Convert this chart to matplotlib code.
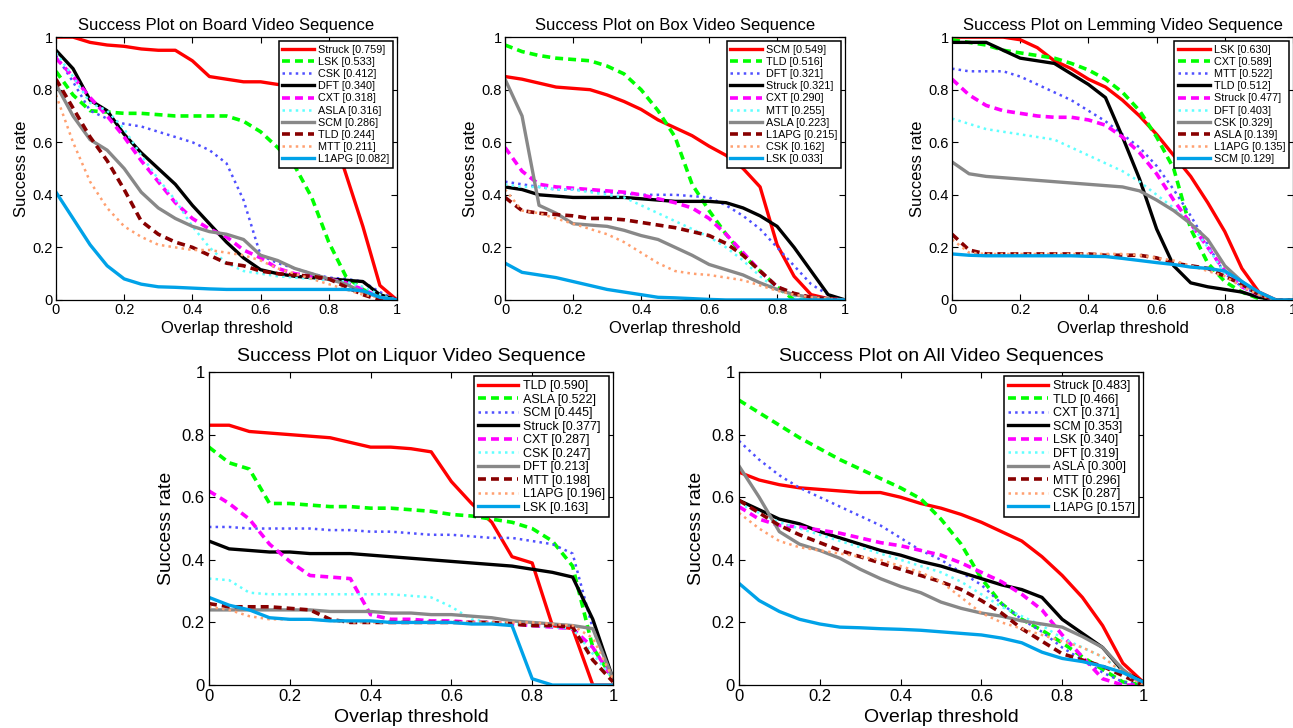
import matplotlib
matplotlib.use('Agg')
import matplotlib.pyplot as plt
import numpy as np
from matplotlib.ticker import FormatStrFormatter

plt.rcParams['font.family'] = ['Liberation Sans', 'DejaVu Sans']

thresholds = np.linspace(0, 1, 21)

board_names = ['Struck', 'LSK', 'CSK', 'DFT', 'CXT', 'ASLA', 'SCM', 'TLD', 'MTT', 'L1APG']
board_auc = [0.759, 0.533, 0.412, 0.340, 0.318, 0.316, 0.286, 0.244, 0.211, 0.082]
board_rates = [
    [1.0, 1.0, 0.98, 0.97, 0.965, 0.955, 0.95, 0.95, 0.91, 0.85, 0.84, 0.83, 0.83, 0.82, 0.82, 0.8, 0.68, 0.48, 0.28, 0.055, 0.0],
    [0.87, 0.78, 0.72, 0.715, 0.71, 0.71, 0.705, 0.70, 0.70, 0.70, 0.70, 0.68, 0.64, 0.58, 0.51, 0.39, 0.22, 0.09, 0.04, 0.01, 0.0],
    [0.93, 0.83, 0.72, 0.69, 0.67, 0.66, 0.64, 0.62, 0.60, 0.57, 0.52, 0.38, 0.17, 0.14, 0.12, 0.10, 0.085, 0.08, 0.07, 0.03, 0.0],
    [0.95, 0.88, 0.76, 0.72, 0.63, 0.56, 0.50, 0.44, 0.36, 0.29, 0.22, 0.16, 0.115, 0.10, 0.09, 0.085, 0.08, 0.075, 0.07, 0.02, 0.0],
    [0.92, 0.85, 0.77, 0.70, 0.62, 0.53, 0.45, 0.37, 0.31, 0.27, 0.24, 0.19, 0.16, 0.12, 0.10, 0.09, 0.08, 0.065, 0.04, 0.01, 0.0],
    [0.94, 0.85, 0.75, 0.72, 0.65, 0.55, 0.46, 0.38, 0.28, 0.20, 0.14, 0.11, 0.10, 0.09, 0.085, 0.08, 0.075, 0.07, 0.05, 0.02, 0.0],
    [0.82, 0.70, 0.61, 0.57, 0.50, 0.41, 0.35, 0.31, 0.28, 0.26, 0.25, 0.23, 0.17, 0.15, 0.12, 0.10, 0.08, 0.06, 0.03, 0.01, 0.0],
    [0.84, 0.73, 0.62, 0.53, 0.42, 0.30, 0.25, 0.22, 0.20, 0.17, 0.14, 0.13, 0.11, 0.10, 0.095, 0.09, 0.08, 0.05, 0.02, 0.0, 0.0],
    [0.78, 0.60, 0.45, 0.35, 0.28, 0.24, 0.21, 0.20, 0.19, 0.19, 0.18, 0.17, 0.15, 0.12, 0.10, 0.08, 0.06, 0.04, 0.02, 0.01, 0.0],
    [0.41, 0.31, 0.21, 0.13, 0.08, 0.06, 0.05, 0.048, 0.045, 0.042, 0.04, 0.04, 0.04, 0.04, 0.04, 0.04, 0.04, 0.04, 0.035, 0.01, 0.0],
]

box_names = ['SCM', 'TLD', 'DFT', 'Struck', 'CXT', 'MTT', 'ASLA', 'L1APG', 'CSK', 'LSK']
box_auc = [0.549, 0.516, 0.321, 0.321, 0.290, 0.255, 0.223, 0.215, 0.162, 0.033]
box_rates = [
    [0.85, 0.84, 0.825, 0.81, 0.805, 0.80, 0.78, 0.755, 0.725, 0.685, 0.655, 0.625, 0.585, 0.55, 0.50, 0.43, 0.21, 0.09, 0.02, 0.005, 0.0],
    [0.97, 0.945, 0.93, 0.92, 0.915, 0.91, 0.89, 0.86, 0.80, 0.72, 0.62, 0.44, 0.34, 0.25, 0.17, 0.11, 0.05, 0.0, 0.0, 0.0, 0.0],
    [0.45, 0.44, 0.43, 0.42, 0.42, 0.415, 0.41, 0.405, 0.40, 0.40, 0.40, 0.395, 0.39, 0.36, 0.32, 0.27, 0.20, 0.13, 0.06, 0.02, 0.0],
    [0.43, 0.42, 0.40, 0.395, 0.39, 0.39, 0.39, 0.39, 0.385, 0.38, 0.375, 0.375, 0.375, 0.37, 0.35, 0.32, 0.28, 0.20, 0.11, 0.02, 0.0],
    [0.58, 0.49, 0.44, 0.43, 0.425, 0.42, 0.415, 0.41, 0.40, 0.385, 0.37, 0.35, 0.31, 0.25, 0.18, 0.11, 0.05, 0.02, 0.01, 0.005, 0.0],
    [0.44, 0.43, 0.43, 0.42, 0.42, 0.41, 0.40, 0.39, 0.36, 0.33, 0.30, 0.27, 0.24, 0.20, 0.15, 0.09, 0.04, 0.015, 0.005, 0.0, 0.0],
    [0.84, 0.70, 0.36, 0.33, 0.29, 0.285, 0.28, 0.265, 0.245, 0.23, 0.20, 0.17, 0.135, 0.115, 0.095, 0.065, 0.04, 0.02, 0.01, 0.005, 0.0],
    [0.39, 0.34, 0.33, 0.325, 0.32, 0.31, 0.31, 0.305, 0.295, 0.285, 0.275, 0.26, 0.245, 0.215, 0.17, 0.11, 0.05, 0.025, 0.01, 0.005, 0.0],
    [0.42, 0.34, 0.33, 0.31, 0.29, 0.27, 0.25, 0.22, 0.18, 0.14, 0.11, 0.10, 0.095, 0.085, 0.075, 0.055, 0.035, 0.02, 0.01, 0.005, 0.0],
    [0.14, 0.105, 0.095, 0.085, 0.07, 0.055, 0.04, 0.03, 0.02, 0.01, 0.008, 0.005, 0.002, 0.0, 0.0, 0.0, 0.0, 0.0, 0.0, 0.0, 0.0],
]

lemming_names = ['LSK', 'CXT', 'MTT', 'TLD', 'Struck', 'DFT', 'CSK', 'ASLA', 'L1APG', 'SCM']
lemming_auc = [0.630, 0.589, 0.522, 0.512, 0.477, 0.403, 0.329, 0.139, 0.135, 0.129]
lemming_rates = [
    [1.0, 1.0, 1.0, 1.0, 0.99, 0.96, 0.91, 0.88, 0.84, 0.81, 0.76, 0.70, 0.63, 0.55, 0.47, 0.37, 0.26, 0.12, 0.03, 0.0, 0.0],
    [0.99, 0.98, 0.97, 0.95, 0.94, 0.93, 0.92, 0.90, 0.875, 0.84, 0.79, 0.72, 0.62, 0.50, 0.27, 0.14, 0.07, 0.03, 0.005, 0.0, 0.0],
    [0.88, 0.87, 0.87, 0.87, 0.85, 0.82, 0.79, 0.76, 0.72, 0.68, 0.63, 0.58, 0.51, 0.42, 0.32, 0.21, 0.10, 0.05, 0.02, 0.0, 0.0],
    [0.98, 0.98, 0.98, 0.95, 0.92, 0.91, 0.90, 0.86, 0.82, 0.77, 0.62, 0.46, 0.27, 0.13, 0.065, 0.05, 0.04, 0.03, 0.01, 0.0, 0.0],
    [0.84, 0.78, 0.74, 0.72, 0.71, 0.70, 0.695, 0.695, 0.685, 0.665, 0.62, 0.56, 0.48, 0.38, 0.29, 0.20, 0.11, 0.05, 0.02, 0.0, 0.0],
    [0.69, 0.67, 0.65, 0.64, 0.63, 0.62, 0.61, 0.58, 0.55, 0.52, 0.49, 0.45, 0.40, 0.35, 0.29, 0.20, 0.10, 0.05, 0.02, 0.0, 0.0],
    [0.525, 0.48, 0.47, 0.465, 0.46, 0.455, 0.45, 0.445, 0.44, 0.435, 0.43, 0.415, 0.38, 0.34, 0.29, 0.23, 0.13, 0.07, 0.02, 0.0, 0.0],
    [0.25, 0.19, 0.175, 0.175, 0.175, 0.175, 0.175, 0.175, 0.175, 0.17, 0.17, 0.17, 0.16, 0.14, 0.13, 0.12, 0.09, 0.06, 0.02, 0.0, 0.0],
    [0.23, 0.18, 0.175, 0.175, 0.175, 0.175, 0.175, 0.175, 0.175, 0.175, 0.175, 0.17, 0.16, 0.15, 0.13, 0.11, 0.09, 0.05, 0.02, 0.0, 0.0],
    [0.175, 0.17, 0.168, 0.168, 0.168, 0.168, 0.168, 0.168, 0.166, 0.165, 0.158, 0.15, 0.142, 0.135, 0.125, 0.12, 0.11, 0.07, 0.03, 0.0, 0.0],
]

liquor_names = ['TLD', 'ASLA', 'SCM', 'Struck', 'CXT', 'CSK', 'DFT', 'MTT', 'L1APG', 'LSK']
liquor_auc = [0.590, 0.522, 0.445, 0.377, 0.287, 0.247, 0.213, 0.198, 0.196, 0.163]
liquor_rates = [
    [0.83, 0.83, 0.81, 0.805, 0.80, 0.795, 0.79, 0.775, 0.76, 0.76, 0.755, 0.745, 0.65, 0.58, 0.52, 0.41, 0.39, 0.19, 0.18, 0.0, 0.0],
    [0.76, 0.71, 0.69, 0.58, 0.58, 0.575, 0.57, 0.57, 0.565, 0.565, 0.56, 0.555, 0.545, 0.54, 0.53, 0.52, 0.50, 0.46, 0.38, 0.12, 0.02],
    [0.505, 0.505, 0.50, 0.50, 0.50, 0.50, 0.495, 0.495, 0.49, 0.49, 0.485, 0.48, 0.48, 0.475, 0.47, 0.47, 0.46, 0.45, 0.42, 0.18, 0.02],
    [0.46, 0.435, 0.43, 0.425, 0.425, 0.42, 0.42, 0.42, 0.415, 0.41, 0.405, 0.40, 0.395, 0.39, 0.385, 0.38, 0.37, 0.36, 0.345, 0.21, 0.02],
    [0.62, 0.58, 0.53, 0.45, 0.395, 0.35, 0.345, 0.34, 0.225, 0.21, 0.21, 0.205, 0.205, 0.20, 0.20, 0.195, 0.19, 0.185, 0.18, 0.12, 0.02],
    [0.34, 0.335, 0.295, 0.29, 0.29, 0.29, 0.29, 0.29, 0.29, 0.29, 0.285, 0.28, 0.25, 0.21, 0.20, 0.195, 0.19, 0.185, 0.18, 0.10, 0.02],
    [0.24, 0.24, 0.24, 0.24, 0.24, 0.24, 0.235, 0.235, 0.235, 0.23, 0.23, 0.225, 0.225, 0.22, 0.215, 0.205, 0.20, 0.195, 0.19, 0.18, 0.02],
    [0.26, 0.25, 0.25, 0.25, 0.245, 0.24, 0.21, 0.20, 0.20, 0.20, 0.20, 0.20, 0.20, 0.20, 0.20, 0.195, 0.19, 0.19, 0.185, 0.08, 0.01],
    [0.25, 0.24, 0.22, 0.21, 0.21, 0.21, 0.205, 0.20, 0.20, 0.20, 0.20, 0.20, 0.20, 0.20, 0.20, 0.20, 0.20, 0.195, 0.19, 0.15, 0.02],
    [0.28, 0.255, 0.24, 0.215, 0.21, 0.21, 0.205, 0.205, 0.205, 0.20, 0.20, 0.20, 0.20, 0.195, 0.195, 0.19, 0.02, 0.0, 0.0, 0.0, 0.0],
]

all_names = ['Struck', 'TLD', 'CXT', 'SCM', 'LSK', 'DFT', 'ASLA', 'MTT', 'CSK', 'L1APG']
all_auc = [0.483, 0.466, 0.371, 0.353, 0.340, 0.319, 0.300, 0.296, 0.287, 0.157]
all_rates = [
    [0.68, 0.655, 0.64, 0.63, 0.625, 0.62, 0.615, 0.615, 0.60, 0.58, 0.565, 0.545, 0.52, 0.49, 0.46, 0.41, 0.35, 0.28, 0.19, 0.07, 0.01],
    [0.91, 0.87, 0.83, 0.79, 0.755, 0.72, 0.69, 0.66, 0.63, 0.595, 0.53, 0.45, 0.34, 0.26, 0.21, 0.175, 0.135, 0.09, 0.05, 0.01, 0.0],
    [0.78, 0.72, 0.67, 0.63, 0.60, 0.57, 0.54, 0.51, 0.47, 0.43, 0.40, 0.36, 0.32, 0.26, 0.21, 0.17, 0.12, 0.08, 0.04, 0.01, 0.0],
    [0.59, 0.56, 0.53, 0.515, 0.49, 0.47, 0.45, 0.43, 0.415, 0.395, 0.38, 0.36, 0.34, 0.32, 0.305, 0.28, 0.21, 0.165, 0.12, 0.045, 0.01],
    [0.57, 0.53, 0.51, 0.505, 0.495, 0.485, 0.47, 0.455, 0.445, 0.43, 0.415, 0.39, 0.36, 0.33, 0.29, 0.24, 0.16, 0.09, 0.02, 0.0, 0.0],
    [0.58, 0.55, 0.52, 0.50, 0.48, 0.46, 0.44, 0.42, 0.40, 0.38, 0.36, 0.33, 0.29, 0.25, 0.22, 0.19, 0.15, 0.12, 0.09, 0.04, 0.0],
    [0.70, 0.60, 0.49, 0.45, 0.43, 0.405, 0.37, 0.34, 0.315, 0.295, 0.265, 0.245, 0.23, 0.22, 0.205, 0.195, 0.185, 0.155, 0.12, 0.05, 0.0],
    [0.59, 0.55, 0.51, 0.48, 0.455, 0.43, 0.41, 0.39, 0.37, 0.35, 0.33, 0.305, 0.27, 0.23, 0.18, 0.14, 0.10, 0.08, 0.06, 0.03, 0.0],
    [0.55, 0.50, 0.46, 0.44, 0.43, 0.42, 0.41, 0.40, 0.38, 0.36, 0.33, 0.28, 0.23, 0.20, 0.18, 0.16, 0.14, 0.12, 0.09, 0.04, 0.0],
    [0.325, 0.27, 0.235, 0.21, 0.195, 0.185, 0.183, 0.18, 0.178, 0.175, 0.17, 0.165, 0.16, 0.15, 0.135, 0.105, 0.085, 0.075, 0.06, 0.04, 0.01],
]

# line style by rank in the legend
dash = (0, (2.2, 1.4))
rank_styles = [
    ('#ff0000', '-', 2.4),
    ('#00ff00', dash, 2.6),
    ('#5050ff', ':', 1.8),
    ('#000000', '-', 2.4),
    ('#ff00ff', dash, 2.6),
    ('#60ffff', ':', 1.8),
    ('#888888', '-', 2.4),
    ('#880000', dash, 2.6),
    ('#ffa070', ':', 1.8),
    ('#00a2e8', '-', 2.4),
]


def draw_success(ax, title, names, auc, rates, big=False):
    fs = 14 if big else 12
    for i in range(len(names)):
        color, ls, lw = rank_styles[i]
        ax.plot(thresholds, rates[i], color=color, linestyle=ls, linewidth=lw,
                label='%s [%.3f]' % (names[i], auc[i]))
    ax.set_xlim(0, 1)
    ax.set_ylim(0, 1)
    ticks = [0, 0.2, 0.4, 0.6, 0.8, 1]
    ax.set_xticks(ticks)
    ax.set_yticks(ticks)
    ax.xaxis.set_major_formatter(FormatStrFormatter('%g'))
    ax.yaxis.set_major_formatter(FormatStrFormatter('%g'))
    ax.tick_params(direction='in', top=True, right=True, length=4, width=0.8,
                   labelsize=12 if big else 10.5, pad=3 if big else 2.5)
    for s in ax.spines.values():
        s.set_linewidth(0.9)
    ax.set_title(title, fontsize=fs, pad=8 if big else 5)
    ax.set_xlabel('Overlap threshold', fontsize=fs, labelpad=3.5 if big else 2.5)
    ax.set_ylabel('Success rate', fontsize=fs, labelpad=5 if big else 2)
    if big:
        leg = ax.legend(loc='upper right', fontsize=9, fancybox=False,
                        framealpha=1, edgecolor='black', handlelength=3.2,
                        handletextpad=0.4, labelspacing=0.12,
                        borderpad=0.3, borderaxespad=0.35)
    else:
        leg = ax.legend(loc='upper right', fontsize=7.8, fancybox=False,
                        framealpha=1, edgecolor='black', handlelength=2.9,
                        handletextpad=0.4, labelspacing=0.2,
                        borderpad=0.35, borderaxespad=0.35)
    leg.get_frame().set_linewidth(1.1)


fig = plt.figure(figsize=(12.93, 7.28), dpi=100)
ax1 = fig.add_axes([0.0433, 0.588, 0.2637, 0.361])
ax2 = fig.add_axes([0.3906, 0.588, 0.2630, 0.361])
ax3 = fig.add_axes([0.7363, 0.588, 0.2637, 0.361])
ax4 = fig.add_axes([0.1616, 0.059, 0.3125, 0.430])
ax5 = fig.add_axes([0.5715, 0.059, 0.3125, 0.430])

draw_success(ax1, 'Success Plot on Board Video Sequence', board_names, board_auc, board_rates)
draw_success(ax2, 'Success Plot on Box Video Sequence', box_names, box_auc, box_rates)
draw_success(ax3, 'Success Plot on Lemming Video Sequence', lemming_names, lemming_auc, lemming_rates)
draw_success(ax4, 'Success Plot on Liquor Video Sequence', liquor_names, liquor_auc, liquor_rates, big=True)
draw_success(ax5, 'Success Plot on All Video Sequences', all_names, all_auc, all_rates, big=True)

fig.savefig('out.png', dpi=100)
